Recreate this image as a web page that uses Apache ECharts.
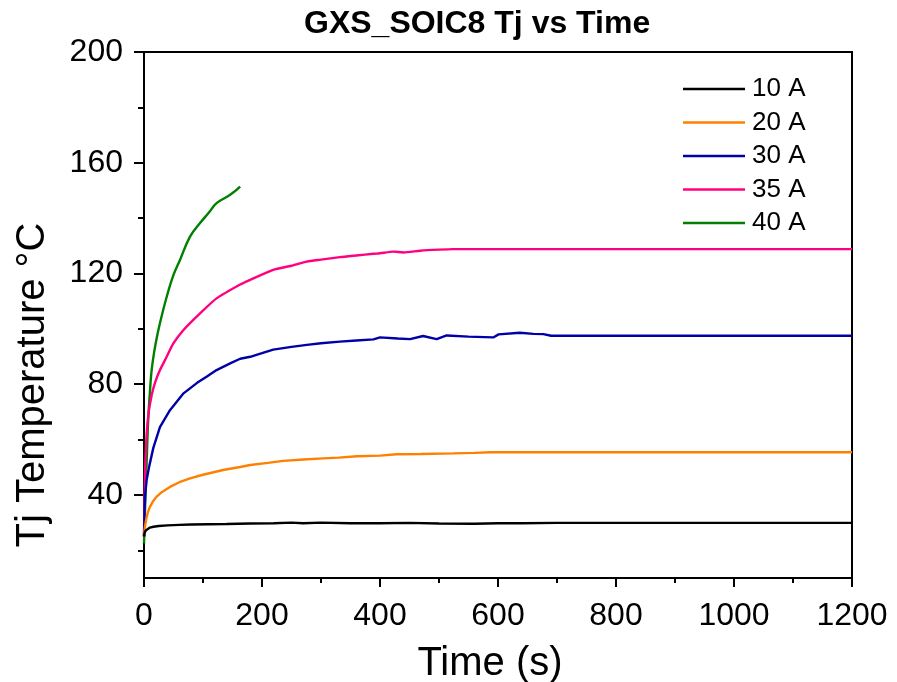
<!DOCTYPE html>
<html>
<head>
<meta charset="utf-8">
<script src="https://cdn.jsdelivr.net/npm/echarts@6/dist/echarts.min.js"></script>
<style>
html, body { margin: 0; padding: 0; background: #fff; }
#main { width: 897px; height: 682px; }
</style>
</head>
<body>
<div id="main"></div>
<script>
// Data: time (s) and Tj (°C) per current
var t10 = [0, 1, 3, 6, 10, 16, 25, 40, 60, 80, 110, 140, 180, 220, 250, 270, 300, 350, 400, 450, 500, 560, 600, 640, 700, 800, 900, 1000, 1100, 1200];
var y10 = [25, 26.3, 27.2, 27.8, 28.2, 28.5, 28.8, 29.0, 29.2, 29.3, 29.4, 29.5, 29.7, 29.8, 30.0, 29.8, 30.0, 29.8, 29.8, 29.9, 29.7, 29.6, 29.8, 29.8, 29.9, 29.9, 29.9, 29.9, 29.9, 29.9];

var t20 = [0, 1, 2, 4.5, 7, 10, 15, 21, 30, 44, 60, 78, 100, 134, 163, 180, 210, 236, 270, 304, 330, 361, 400, 428, 470, 524, 560, 587, 700, 800, 1000, 1200];
var y20 = [25, 27.5, 29, 32, 34, 35.7, 37.6, 39.3, 41, 42.9, 44.6, 46, 47.3, 49, 50.1, 50.8, 51.6, 52.3, 52.8, 53.2, 53.5, 54, 54.2, 54.7, 54.8, 55, 55.2, 55.4, 55.4, 55.4, 55.4, 55.4];

var t30 = [0, 0.5, 1, 2, 4.5, 9, 15.8, 27, 44, 67, 90, 106, 123, 146, 163, 180, 200, 219, 250, 276, 300, 332, 360, 389, 400, 430, 451, 473, 496, 513, 550, 592, 601, 637, 660, 677, 690, 800, 1000, 1200];
var y30 = [25, 30, 35, 40, 45.5, 50.5, 57, 64.5, 70.6, 76.7, 80.5, 82.7, 85.1, 87.5, 89.2, 89.9, 91.2, 92.5, 93.5, 94.2, 94.8, 95.4, 95.8, 96.2, 96.9, 96.5, 96.3, 97.4, 96.3, 97.6, 97.2, 96.9, 98, 98.6, 98.2, 98.1, 97.5, 97.5, 97.5, 97.5];

var t35 = [0, 0.5, 1, 2, 4.5, 8, 13, 18.6, 27, 35.6, 50, 67, 95, 123, 163, 180, 219, 250, 276, 300, 332, 360, 389, 400, 423, 440, 468, 500, 524, 600, 800, 1000, 1200];
var y35 = [25, 33, 40, 50, 62, 70, 76, 80.5, 85.1, 88.7, 94.8, 99.6, 105.6, 111, 116, 117.7, 121.3, 122.8, 124.3, 125, 125.9, 126.5, 127.1, 127.3, 127.9, 127.6, 128.2, 128.6, 128.8, 128.8, 128.8, 128.8, 128.8];

var t40 = [0, 0.5, 1, 1.7, 3, 4.5, 7.3, 10, 12, 15, 20, 27, 38.5, 50, 61, 78, 95, 110, 123, 146, 163];
var y40 = [22.5, 26, 30, 34.5, 43, 52, 68, 77, 83, 88.5, 95, 102, 111.6, 119.5, 124.9, 133.3, 138.2, 142, 145.4, 148.4, 151.4];

var names = ['10 A', '20 A', '30 A', '35 A', '40 A'];
var colors = ['#000000', '#ff8000', '#0000a8', '#ff0080', '#008000'];
var smoothing = [0, 0, 0, 0.2, 0.4];
var yLabels = [40, 80, 120, 160, 200];
var yMinor = [20, 60, 100, 140, 180];

function pairs(xs, ys) {
    var out = [];
    for (var i = 0; i < xs.length; i++) out.push([xs[i], ys[i]]);
    return out;
}

var chart = echarts.init(document.getElementById('main'));
var font = 'Liberation Sans, Arial, sans-serif';
var allData = [pairs(t10, y10), pairs(t20, y20), pairs(t30, y30), pairs(t35, y35), pairs(t40, y40)];

var series = [];
for (var k = 0; k < names.length; k++) {
    series.push({
        name: names[k],
        type: 'line',
        symbol: 'none',
        smooth: smoothing[k],
        lineStyle: { color: colors[k], width: 2.4 },
        itemStyle: { color: colors[k] },
        data: allData[k],
        z: 10 - k
    });
}

var option = {
    backgroundColor: '#fff',
    animation: false,
    title: {
        text: 'GXS_SOIC8 Tj vs Time',
        left: 299,
        top: 3,
        textStyle: { fontFamily: font, fontSize: 32, fontWeight: 'bold', color: '#000' }
    },
    legend: {
        orient: 'vertical',
        left: 683,
        top: 76,
        padding: 0,
        icon: 'rect',
        itemWidth: 62,
        itemHeight: 2.5,
        itemGap: 7.5,
        data: names,
        textStyle: { fontFamily: font, fontSize: 26, color: '#000', lineHeight: 26, padding: [0, 0, 0, 2] }
    },
    grid: {
        left: 144, right: 45, top: 52, bottom: 104,
        outerBoundsMode: 'none',
        show: true, borderColor: '#000', borderWidth: 2
    },
    xAxis: {
        type: 'value',
        min: 0, max: 1200, interval: 200,
        name: 'Time (s)',
        nameLocation: 'middle',
        nameGap: 66,
        nameTextStyle: { fontFamily: font, fontSize: 40, color: '#000', padding: [0, 16, 0, 0] },
        axisLine: { lineStyle: { color: '#000', width: 2 } },
        axisTick: { length: 9, lineStyle: { color: '#000', width: 2 } },
        minorTick: { show: true, splitNumber: 2, length: 5, lineStyle: { color: '#000', width: 2 } },
        axisLabel: { fontFamily: font, fontSize: 32, color: '#000', margin: 22, formatter: function (v) { return String(v); } },
        splitLine: { show: false }
    },
    yAxis: [{
        type: 'value',
        min: 10, max: 200,
        name: 'Tj Temperature °C',
        nameLocation: 'middle',
        nameGap: 91,
        nameTextStyle: { fontFamily: font, fontSize: 40, color: '#000', padding: [0, 140, 0, 0] },
        axisLine: { show: true, lineStyle: { color: '#000', width: 2 } },
        axisTick: { length: 10, customValues: yLabels, lineStyle: { color: '#000', width: 2 } },
        axisLabel: { fontFamily: font, fontSize: 32, color: '#000', margin: 21, customValues: yLabels },
        splitLine: { show: false }
    }, {
        type: 'value',
        position: 'left',
        min: 10, max: 200,
        axisLine: { show: false },
        axisTick: { show: true, length: 6, customValues: yMinor, lineStyle: { color: '#000', width: 2 } },
        axisLabel: { show: false },
        splitLine: { show: false }
    }],
    series: series
};

chart.setOption(option);
</script>
</body>
</html>
